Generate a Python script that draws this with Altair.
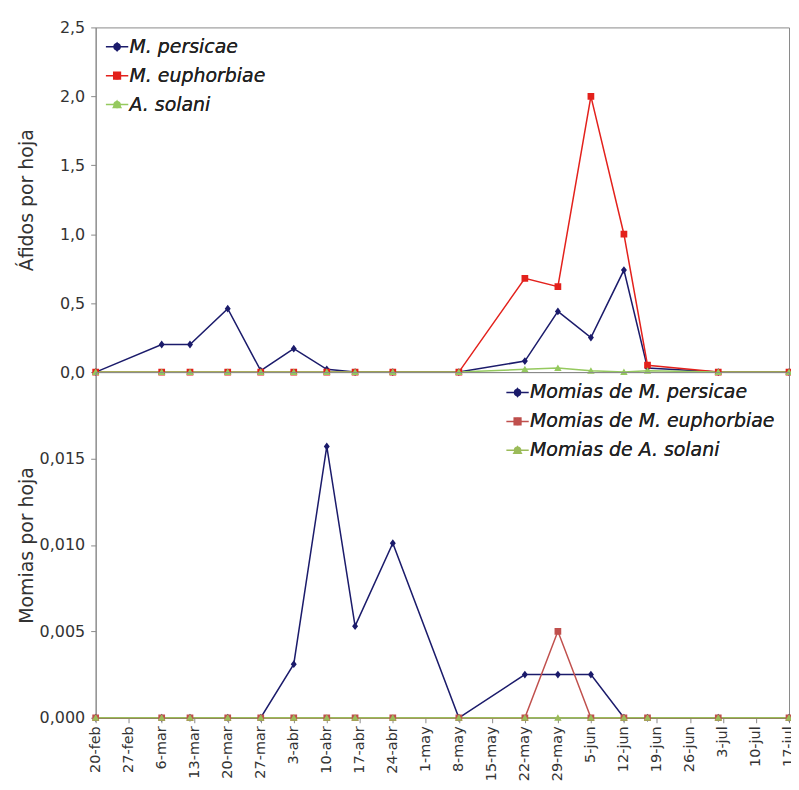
import altair as alt
import pandas as pd

# ---------------- data ----------------
fechas = ["2010-02-20", "2010-03-06", "2010-03-12", "2010-03-20", "2010-03-27",
          "2010-04-03", "2010-04-10", "2010-04-16", "2010-04-24", "2010-05-08",
          "2010-05-22", "2010-05-29", "2010-06-05", "2010-06-12", "2010-06-17",
          "2010-07-02", "2010-07-17"]

afidos_nombres = ["M. persicae", "M. euphorbiae", "A. solani"]
afidos_persicae = [0.0, 0.20, 0.20, 0.46, 0.01, 0.17, 0.02, 0.0, 0.0, 0.0,
                   0.08, 0.44, 0.25, 0.74, 0.03, 0.0, 0.0]
afidos_euphorbiae = [0.0, 0.0, 0.0, 0.0, 0.0, 0.0, 0.0, 0.0, 0.0, 0.0,
                     0.68, 0.62, 2.0, 1.0, 0.05, 0.0, 0.0]
afidos_solani = [0.0, 0.0, 0.0, 0.0, 0.0, 0.0, 0.0, 0.0, 0.0, 0.0,
                 0.02, 0.03, 0.01, 0.0, 0.01, 0.0, 0.0]

momias_nombres = ["Momias de M. persicae", "Momias de M. euphorbiae", "Momias de A. solani"]
momias_persicae = [0.0, 0.0, 0.0, 0.0, 0.0, 0.0031, 0.0157, 0.0053, 0.0101, 0.0,
                   0.0025, 0.0025, 0.0025, 0.0, 0.0, 0.0, 0.0]
momias_euphorbiae = [0.0, 0.0, 0.0, 0.0, 0.0, 0.0, 0.0, 0.0, 0.0, 0.0,
                     0.0, 0.005, 0.0, 0.0, 0.0, 0.0, 0.0]
momias_solani = [0.0] * 17

semanas = ["2010-02-20", "2010-02-27", "2010-03-06", "2010-03-13", "2010-03-20",
           "2010-03-27", "2010-04-03", "2010-04-10", "2010-04-17", "2010-04-24",
           "2010-05-01", "2010-05-08", "2010-05-15", "2010-05-22", "2010-05-29",
           "2010-06-05", "2010-06-12", "2010-06-19", "2010-06-26", "2010-07-03",
           "2010-07-10", "2010-07-17"]
meses = ["ene", "feb", "mar", "abr", "may", "jun", "jul", "ago", "sep", "oct", "nov", "dic"]

afidos_ticks = [0, 0.5, 1.0, 1.5, 2.0, 2.5]
momias_ticks = [0, 0.005, 0.010, 0.015]

colores_afidos = ["#1b1b6b", "#e3211c", "#95c95e"]
colores_momias = ["#1b1b6b", "#c0504d", "#9bbb59"]

# marker shapes (open horizontal stroke only visible in the legend)
formas = [
    "M-3,0H3M0,-1.05L0.8,0L0,1.05L-0.8,0Z",
    "M-3,0H3M-0.9,-0.9H0.9V0.9H-0.9Z",
    "M-3,0H3M0,-0.95L1,0.8H-1Z",
]


def ms(d):
    return int(pd.Timestamp(d, tz="UTC").timestamp() * 1000)


def largo(nombres, series):
    filas = []
    for nombre, vals in zip(nombres, series):
        for f, v in zip(fechas, vals):
            filas.append({"fecha": ms(f), "valor": v, "serie": nombre, "serie_l": nombre})
    return pd.DataFrame(filas)


df_afidos = largo(afidos_nombres, [afidos_persicae, afidos_euphorbiae, afidos_solani])
df_momias = largo(momias_nombres, [momias_persicae, momias_euphorbiae, momias_solani])

W = 696
FONT = "DejaVu Sans"
mes_expr = "[" + ",".join("'%s'" % m for m in meses) + "]"
x_label_expr = "utcdate(datum.value) + '-' + " + mes_expr + "[utcmonth(datum.value)]"


def panel(df, nombres, colores, ydom, yvals, decs, ytitle, show_x, lx, ly, h):
    xscale = alt.Scale(type="utc", domain=[ms(semanas[0]), ms(semanas[-1])])
    if show_x:
        xaxis = alt.Axis(values=[ms(s) for s in semanas], labelExpr=x_label_expr,
                         labelAngle=-90, labelFontSize=14.5, labelOverlap=False,
                         tickSize=5, labelPadding=3, title=None, grid=False)
    else:
        xaxis = None
    x = alt.X("fecha:T", scale=xscale, axis=xaxis, title=None)
    y = alt.Y("valor:Q", scale=alt.Scale(domain=ydom, nice=False, zero=True),
              axis=alt.Axis(values=yvals,
                            labelExpr="replace(format(datum.value, '.%df'), '.', ',')" % decs,
                            title=ytitle, titleFontSize=19, titleFontWeight="normal",
                            titleColor="#333", titleFont=FONT, titleX=-69,
                            titleBaseline="middle", labelFontSize=16, tickSize=5,
                            labelPadding=6, grid=False))
    leyenda = alt.Legend(title=None, orient="none", legendX=lx, legendY=ly,
                         labelFontSize=19, labelFontStyle="italic", labelFont=FONT,
                         labelColor="#222", symbolSize=56, symbolStrokeWidth=1.5,
                         labelOffset=3, rowPadding=9, padding=0, labelLimit=400)
    lineas = alt.Chart(df).mark_line(strokeWidth=1.5).encode(
        x=x, y=y,
        color=alt.Color("serie_l:N", scale=alt.Scale(domain=nombres, range=colores), legend=None),
    )
    puntos = alt.Chart(df).mark_point(filled=True, size=56, opacity=1).encode(
        x=x, y=y,
        color=alt.Color("serie:N", scale=alt.Scale(domain=nombres, range=colores), legend=leyenda),
        stroke=alt.Stroke("serie:N", scale=alt.Scale(domain=nombres, range=colores), legend=leyenda),
        shape=alt.Shape("serie:N", scale=alt.Scale(domain=nombres, range=formas), legend=leyenda),
        strokeWidth=alt.value(0),
    )
    return alt.layer(lineas, puntos).resolve_scale(
        color="independent").properties(width=W, height=h)


arriba = panel(df_afidos, afidos_nombres, colores_afidos, [0, 2.5], afidos_ticks, 1,
               "Áfidos por hoja", False, 12, 10, 346)
abajo = panel(df_momias, momias_nombres, colores_momias, [0, 0.02], momias_ticks, 3,
              "Momias por hoja", True, 414, 11, 347)

chart = alt.vconcat(arriba, abajo, spacing=0, bounds="flush").resolve_scale(
    color="independent", shape="independent", stroke="independent"
).resolve_legend(
    color="independent", shape="independent", stroke="independent"
).properties(
    padding={"left": 9, "top": 9, "right": -10, "bottom": -1}
).configure_view(
    stroke="#8a8a8a", strokeWidth=1
).configure_axis(
    domainColor="#8a8a8a", tickColor="#8a8a8a", labelColor="#333", labelFont=FONT,
    titleFont=FONT
)

chart.save("out.html", embed_options={"renderer": "svg", "actions": False})
